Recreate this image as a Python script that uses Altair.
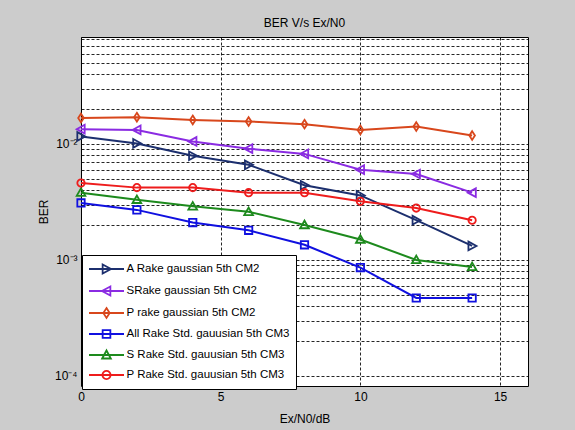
import altair as alt
import pandas as pd

# ---- data ----
x_vals = [0, 2, 4, 6, 8, 10, 12, 14]
series_names = [
    "A Rake gaussian 5th CM2",
    "SRake gaussian 5th CM2",
    "P rake gaussian 5th CM2",
    "All Rake Std. gauusian 5th CM3",
    "S Rake Std. gauusian 5th CM3",
    "P Rake Std. gauusian 5th CM3",
]
a_rake_cm2 = [0.0116, 0.0101, 0.0079, 0.0066, 0.0044, 0.0036, 0.0022, 0.00132]
s_rake_cm2 = [0.0134, 0.0132, 0.0105, 0.0091, 0.0082, 0.0060, 0.0055, 0.0038]
p_rake_cm2 = [0.0167, 0.0170, 0.0161, 0.0156, 0.0148, 0.0132, 0.0141, 0.0118]
all_rake_cm3 = [0.0031, 0.0027, 0.0021, 0.0018, 0.00135, 0.00086, 0.00047, 0.00047]
s_rake_cm3 = [0.0038, 0.0033, 0.0029, 0.0026, 0.0020, 0.0015, 0.00100, 0.00087]
p_rake_cm3 = [0.0046, 0.0042, 0.0042, 0.0038, 0.0038, 0.0032, 0.0028, 0.0022]
series_values = [a_rake_cm2, s_rake_cm2, p_rake_cm2, all_rake_cm3, s_rake_cm3, p_rake_cm3]

x_ticks = [0, 5, 10, 15]
y_tick_labels = {0.0001: "10⁻⁴", 0.001: "10⁻³", 0.01: "10⁻²"}
y_mantissas = [1, 2, 3, 4, 5, 6, 7, 8, 9]
y_decades = [0.0001, 0.001, 0.01]

# ---- styling ----
colors = ["#1C2F6E", "#8A2BE2", "#D8471C", "#1010E0", "#1D8A1D", "#EE1C1C"]
marker_paths = [
    "M-0.85,-1L1,0L-0.85,1Z",
    "M0.85,-1L-1,0L0.85,1Z",
    "M0,-1L0.65,0L0,1L-0.65,0Z",
    "M-0.85,-0.85H0.85V0.85H-0.85Z",
    "M-1,0.75L0,-1L1,0.75Z",
    "M0.85,0A0.85,0.85 0 1,1 -0.85,0A0.85,0.85 0 1,1 0.85,0Z",
]
legend_paths = [
    "M-2.5,0H2.5M-0.55,-0.65L0.65,0L-0.55,0.65Z",
    "M-2.5,0H2.5M0.55,-0.65L-0.65,0L0.55,0.65Z",
    "M-2.5,0H2.5M0,-0.7L0.45,0L0,0.7L-0.45,0Z",
    "M-2.5,0H2.5M-0.55,-0.55H0.55V0.55H-0.55Z",
    "M-2.5,0H2.5M-0.62,0.5L0,-0.65L0.62,0.5Z",
    "M-2.5,0H2.5M0.58,0A0.58,0.58 0 1,1 -0.58,0A0.58,0.58 0 1,1 0.58,0Z",
]
FONT = "Liberation Sans"

rows = []
for name, vals in zip(series_names, series_values):
    for xv, yv in zip(x_vals, vals):
        rows.append({"series": name, "x": xv, "ber": yv})
df = pd.DataFrame(rows)

y_grid = [m * d for d in y_decades for m in y_mantissas] + [0.02, 0.03, 0.04, 0.05, 0.06, 0.07, 0.08]
y_grid = sorted(set(round(v, 8) for v in y_grid))
label_expr = " : ".join(
    f"datum.value == {k} ? '{v}'" for k, v in y_tick_labels.items()
) + " : ''"

x_enc = alt.X(
    "x:Q",
    scale=alt.Scale(domain=[0, 16], nice=False),
    axis=alt.Axis(
        values=x_ticks, grid=True, gridDash=[3, 2], gridColor="black", gridOpacity=0.85,
        domain=False, ticks=False, labelPadding=5, labelFontSize=12, labelFont=FONT,
        labelColor="black", labelFlush=False, title="Ex/N0/dB", titleFont=FONT,
        titleFontSize=12, titleFontWeight="normal", titleColor="black", titlePadding=11,
    ),
)
y_enc = alt.Y(
    "ber:Q",
    scale=alt.Scale(type="log", domain=[8.2e-5, 0.0834], nice=False),
    axis=alt.Axis(
        values=y_grid, labelExpr=label_expr, labelOverlap=False, grid=True,
        gridDash=[3, 2], gridColor="black", gridOpacity=0.85, domain=False, ticks=False,
        labelPadding=4, labelFontSize=12, labelFont=FONT, labelColor="black",
        title="BER", titleFont=FONT, titleFontSize=12, titleFontWeight="normal",
        titleColor="black", titlePadding=4,
    ),
)

color_scale = alt.Scale(domain=series_names, range=colors)

lines = alt.Chart(df).mark_line(strokeWidth=2).encode(
    x=x_enc, y=y_enc,
    color=alt.Color("series:N", scale=color_scale, legend=None),
)
points = alt.Chart(df).mark_point(filled=False, size=75, strokeWidth=1.8, opacity=1).encode(
    x=x_enc, y=y_enc,
    color=alt.Color("series:N", scale=color_scale, legend=None),
    shape=alt.Shape("series:N", scale=alt.Scale(domain=series_names, range=marker_paths), legend=None),
)

legend_def = alt.Legend(
    orient="none", legendX=1, legendY=218, title=None, fillColor="white",
    strokeColor="black", padding=6, labelFont=FONT, labelFontSize=11.5,
    labelColor="black", symbolSize=196, symbolStrokeWidth=1.8, symbolOffset=10.5,
    labelOffset=12, rowPadding=4, labelLimit=400, symbolType="circle",
)
legend_layer = alt.Chart(df).mark_point(filled=False, strokeWidth=1.8, opacity=1).encode(
    x=x_enc, y=y_enc,
    color=alt.Color("series:N", scale=color_scale, legend=legend_def),
    shape=alt.Shape("series:N", scale=alt.Scale(domain=series_names, range=legend_paths), legend=legend_def),
).transform_filter("false")

chart = alt.layer(lines, points, legend_layer).resolve_scale(
    color="independent", shape="independent"
).properties(
    width=447, height=349,
    padding={"left": 81, "top": 37, "right": 47, "bottom": 44},
    autosize=alt.AutoSizeParams(type="none"),
    background="#CCCCCC",
    title=alt.Title("BER V/s Ex/N0", font=FONT, fontSize=12, fontWeight="normal",
                    color="black", offset=3),
).configure_view(stroke="black", strokeWidth=1, fill="white")

chart.save("out.html", embed_options={"renderer": "svg", "actions": False})
